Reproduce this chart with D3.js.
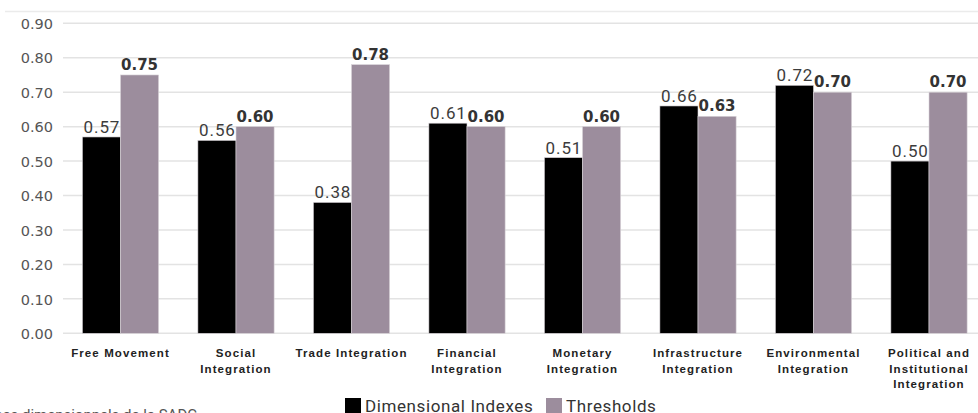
<!DOCTYPE html>
<html lang="en">
<head>
    <meta charset="UTF-8">
    <title>SADC Dimensional Indexes</title>
    <style>
        body {
            margin: 0;
            background: #fff;
            font-family: Roboto, Arial, sans-serif;
        }
        .grid line {
            stroke: #e3e3e3;
            stroke-width: 1.5px;
        }
        .ytick {
            font-family: "DejaVu Sans", sans-serif;
            font-size: 14.5px;
            fill: #555;
        }
        .xlabel {
            font-family: "Liberation Sans", Arial, sans-serif;
            font-weight: bold;
            font-size: 11.5px;
            letter-spacing: 1.1px;
            fill: #222;
        }
        .val-index {
            font-size: 17px;
            font-weight: 400;
            letter-spacing: 0.9px;
            fill: #3c3c3c;
        }
        .val-thr {
            font-family: "DejaVu Sans", sans-serif;
            font-weight: bold;
            font-size: 15px;
            fill: #333;
        }
        .legend text {
            font-size: 17px;
            letter-spacing: 0.6px;
            fill: #333;
        }
    </style>
</head>
<body>
    <div id="chart"></div>

    <script src="https://d3js.org/d3.v7.min.js"></script>
    <script>
        var width = 978,
            height = 413;

        // data
        var categories = ["Free Movement", "Social Integration", "Trade Integration", "Financial Integration",
            "Monetary Integration", "Infrastructure Integration", "Environmental Integration",
            "Political and Institutional Integration"];
        var categoryLines = [["Free Movement"], ["Social", "Integration"], ["Trade Integration"],
            ["Financial", "Integration"], ["Monetary", "Integration"], ["Infrastructure", "Integration"],
            ["Environmental", "Integration"], ["Political and", "Institutional", "Integration"]];
        var series = ["Dimensional Indexes", "Thresholds"];
        var indexes = [0.57, 0.56, 0.38, 0.61, 0.51, 0.66, 0.72, 0.50];
        var thresholds = [0.75, 0.60, 0.78, 0.60, 0.60, 0.63, 0.70, 0.70];
        var yTicks = [0, 0.1, 0.2, 0.3, 0.4, 0.5, 0.6, 0.7, 0.8, 0.9];
        var colors = ["#000000", "#9c8d9d"];

        var svg = d3.select("#chart").append("svg")
            .attr("width", width)
            .attr("height", height);

        var y = d3.scaleLinear().domain([0, 0.9]).range([333.3, 23.3]);

        var x0 = d3.scaleBand()
            .domain(categories)
            .range([62.75, 986.75])
            .paddingInner(0.34)
            .paddingOuter(0.17);

        var x1 = d3.scaleBand()
            .domain(series)
            .range([0, x0.bandwidth()]);

        var color = d3.scaleOrdinal().domain(series).range(colors);

        // faint line across the top of the figure
        svg.append("line")
            .attr("x1", 5).attr("x2", width)
            .attr("y1", 11.5).attr("y2", 11.5)
            .attr("stroke", "#ebebeb")
            .attr("stroke-width", 1.5);

        // gridlines
        svg.append("g")
            .attr("class", "grid")
            .selectAll("line")
            .data(yTicks)
            .enter().append("line")
            .attr("x1", 63)
            .attr("x2", width)
            .attr("y1", function(d) { return y(d); })
            .attr("y2", function(d) { return y(d); });

        // y axis labels
        var yAxis = svg.append("g")
            .attr("transform", "translate(53,0)")
            .call(d3.axisLeft(y).tickValues(yTicks).tickSize(0).tickPadding(0)
                .tickFormat(d3.format(".2f")));
        yAxis.select(".domain").remove();
        yAxis.selectAll("text")
            .attr("class", "ytick")
            .attr("font-family", null)
            .attr("font-size", null)
            .attr("fill", null)
            .attr("dy", "0.36em");

        var rows = categories.map(function(c, i) {
            return {cat: c, lines: categoryLines[i], values: [
                {key: series[0], value: indexes[i]},
                {key: series[1], value: thresholds[i]}
            ]};
        });

        var groups = svg.append("g")
            .selectAll("g")
            .data(rows)
            .enter().append("g")
            .attr("transform", function(d) { return "translate(" + x0(d.cat) + ",0)"; });

        groups.selectAll("rect")
            .data(function(d) { return d.values; })
            .enter().append("rect")
            .attr("x", function(d) { return x1(d.key); })
            .attr("y", function(d) { return y(d.value); })
            .attr("width", x1.bandwidth())
            .attr("height", function(d) { return y(0) - y(d.value); })
            .attr("fill", function(d) { return color(d.key); })
            .attr("stroke", "#d9d4d9")
            .attr("stroke-width", 0.6);

        // value labels
        groups.selectAll("text.val")
            .data(function(d) { return d.values; })
            .enter().append("text")
            .attr("class", function(d) { return d.key === series[0] ? "val val-index" : "val val-thr"; })
            .attr("x", function(d) { return x1(d.key) + x1.bandwidth() / 2 + (d.key === series[0] ? 0.5 : 0); })
            .attr("y", function(d) { return y(d.value) - (d.key === series[0] ? 4 : 5); })
            .attr("text-anchor", "middle")
            .text(function(d) { return d.value.toFixed(2); });

        // category labels
        groups.append("text")
            .attr("class", "xlabel")
            .attr("text-anchor", "middle")
            .attr("x", x0.bandwidth() / 2)
            .attr("y", 357)
            .selectAll("tspan")
            .data(function(d) { return d.lines; })
            .enter().append("tspan")
            .attr("x", x0.bandwidth() / 2)
            .attr("dy", function(d, i) { return i === 0 ? 0 : 15.5; })
            .text(function(d) { return d; });

        // legend
        var legendX = [345, 546];
        var legend = svg.append("g")
            .attr("class", "legend")
            .selectAll("g")
            .data(series)
            .enter().append("g")
            .attr("transform", function(d, i) { return "translate(" + legendX[i] + ",398)"; });

        legend.append("rect")
            .attr("width", 16)
            .attr("height", 15)
            .attr("fill", function(d) { return color(d); });

        legend.append("text")
            .attr("x", 20)
            .attr("y", 13.5)
            .text(function(d) { return d; });

        // cropped caption at bottom left
        svg.append("text")
            .attr("x", 197)
            .attr("y", 420)
            .attr("text-anchor", "end")
            .attr("font-size", 15)
            .attr("fill", "#555")
            .text("Indices dimensionnels de la SADC");
    </script>
</body>
</html>
